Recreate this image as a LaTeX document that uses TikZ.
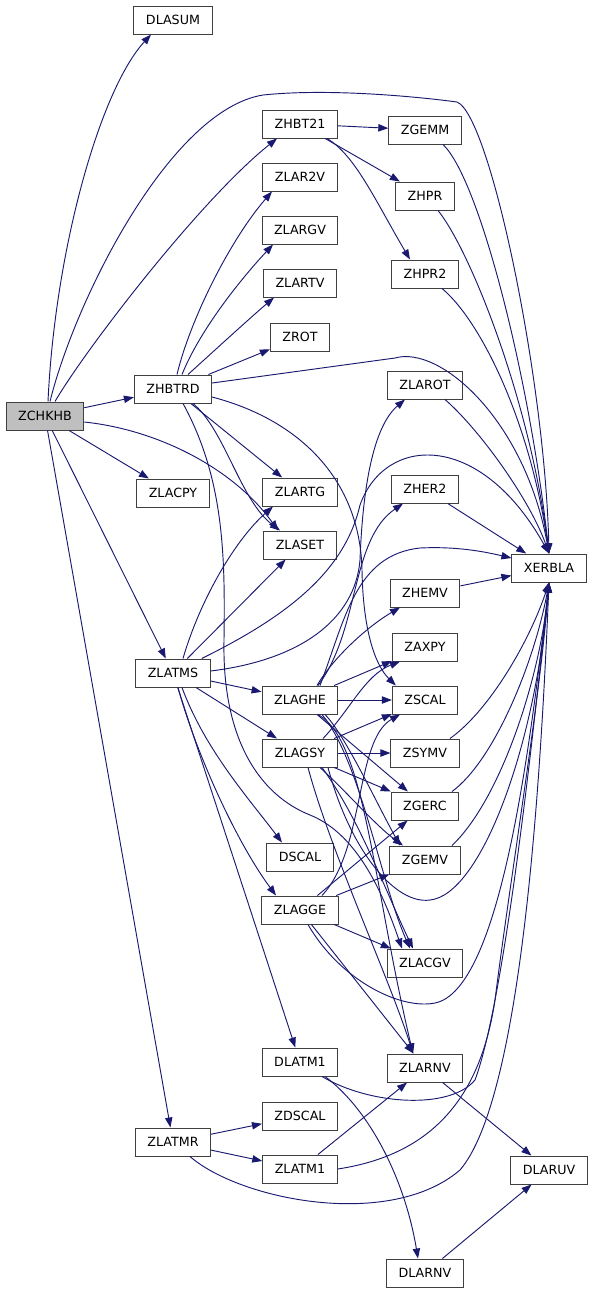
\documentclass[tikz,border=0pt]{standalone}
\usepackage{fontspec}
\setmainfont{DejaVu Sans}
\usetikzlibrary{arrows.meta,calc}
\definecolor{edgeblue}{HTML}{191970}
\definecolor{rootgray}{HTML}{BFBFBF}

\begin{document}
\begin{tikzpicture}[
        x=0.75pt, y=-0.75pt,
        fn/.style={draw=black!75, fill=white, line width=0.75pt, minimum height=21pt, inner xsep=9pt, inner ysep=0pt, font=\fontsize{9.5}{10}\selectfont},
        root/.style={fn, fill=rootgray},
        ar/.style={-{Triangle[length=7.5pt,width=5.5pt]}, edgeblue, line width=0.7pt},
    ]
    \useasboundingbox (0,0) rectangle (592,1293);

    \node[root](zchkhb) at (45,416) {ZCHKHB};
    \node[fn](dlasum) at (173,20) {DLASUM};
    \node[fn](zhbt21) at (300,124) {ZHBT21};
    \node[fn](zgemm) at (425,130) {ZGEMM};
    \node[fn](zlar2v) at (300,177) {ZLAR2V};
    \node[fn](zhpr) at (425,196) {ZHPR};
    \node[fn](zlargv) at (300,230) {ZLARGV};
    \node[fn](zhpr2) at (425,274) {ZHPR2};
    \node[fn](zlartv) at (300,283) {ZLARTV};
    \node[fn](zrot) at (300,337) {ZROT};
    \node[fn](zhbtrd) at (173,389) {ZHBTRD};
    \node[fn](zlarot) at (425,385) {ZLAROT};
    \node[fn](zlacpy) at (173,493) {ZLACPY};
    \node[fn](zlartg) at (300,492) {ZLARTG};
    \node[fn](zher2) at (425,489) {ZHER2};
    \node[fn](zlaset) at (300,545) {ZLASET};
    \node[fn](xerbla) at (549,568) {XERBLA};
    \node[fn](zhemv) at (425,593) {ZHEMV};
    \node[fn](zaxpy) at (425,647) {ZAXPY};
    \node[fn](zlatms) at (173,673) {ZLATMS};
    \node[fn](zlaghe) at (300,700) {ZLAGHE};
    \node[fn](zscal) at (425,700) {ZSCAL};
    \node[fn](zlagsy) at (300,753) {ZLAGSY};
    \node[fn](zsymv) at (425,753) {ZSYMV};
    \node[fn](zgerc) at (425,806) {ZGERC};
    \node[fn](dscal) at (300,857) {DSCAL};
    \node[fn](zgemv) at (425,860) {ZGEMV};
    \node[fn](zlagge) at (300,910) {ZLAGGE};
    \node[fn](zlacgv) at (425,963) {ZLACGV};
    \node[fn](dlatm1) at (300,1062) {DLATM1};
    \node[fn](zlarnv) at (425,1068) {ZLARNV};
    \node[fn](zdscal) at (300,1116) {ZDSCAL};
    \node[fn](zlatmr) at (173,1142) {ZLATMR};
    \node[fn](zlatm1) at (300,1169) {ZLATM1};
    \node[fn](dlaruv) at (549,1170) {DLARUV};
    \node[fn](dlarnv) at (425,1273) {DLARNV};

    \draw[ar] ($(zchkhb.north)+(3,0)$) .. controls (55,250) and (100,90) .. ($(dlasum.south)+(-22,0)$);
    \draw[ar] ($(zchkhb.north)+(5,0)$) .. controls (75,300) and (170,110) .. (263,95) .. controls (330,88) and (420,97) .. (457,102) .. controls (490,115) and (545,380) .. (xerbla.north);
    \draw[ar] ($(zchkhb.north)+(10,0)$) .. controls (85,350) and (200,200) .. ($(zhbt21.south)+(-23,0)$);
    \draw[ar] (zchkhb) -- (zhbtrd);
    \draw[ar] (zchkhb) -- (zlacpy);
    \draw[ar] ($(zchkhb.east)+(0,6)$) .. controls (160,430) and (235,470) .. ($(zlaset.north)+(-22,0)$);
    \draw[ar] (zchkhb) -- (zlatms);
    \draw[ar] (zchkhb) -- (zlatmr);

    \draw[ar] (zhbt21) -- (zgemm);
    \draw[ar] (zhbt21) -- (zhpr);
    \draw[ar] ($(zhbt21.south)+(27,0)$) .. controls (355,155) and (375,200) .. ($(zhpr2.north)+(-15,0)$);
    \draw[ar] ($(zgemm.south)+(18,0)$) .. controls (480,180) and (530,380) .. (xerbla.north);
    \draw[ar] ($(zhpr.south)+(13,0)$) .. controls (470,250) and (530,400) .. (xerbla.north);
    \draw[ar] ($(zhpr2.south)+(17,0)$) .. controls (480,320) and (530,420) .. (xerbla.north);

    \draw[ar] ($(zhbtrd.north)+(4,0)$) .. controls (190,320) and (230,240) .. ($(zlar2v.south)+(-28,0)$);
    \draw[ar] ($(zhbtrd.north)+(9,0)$) .. controls (200,330) and (240,280) .. ($(zlargv.south)+(-27,0)$);
    \draw[ar] ($(zhbtrd.north)+(15,0)$) .. controls (215,350) and (250,318) .. ($(zlartv.south)+(-26,0)$);
    \draw[ar] (zhbtrd) -- (zrot);
    \draw[ar] ($(zhbtrd.east)+(0,-6)$) -- (395,358) .. controls (440,345) and (525,420) .. (xerbla.north);
    \draw[ar] (zhbtrd) -- (zlartg);
    \draw[ar] ($(zhbtrd.south)+(20,0)$) .. controls (225,430) and (240,500) .. ($(zlaset.north)+(-20,0)$);
    \draw[ar] ($(zhbtrd.east)+(0,8)$) .. controls (300,420) and (360,480) .. (362,570) .. controls (363,630) and (375,665) .. ($(zscal.north west)+(4,0)$);
    \draw[ar] ($(zhbtrd.south)+(10,0)$) .. controls (225,480) and (225,560) .. (224,640) .. controls (222,740) and (260,795) .. (310,815) .. controls (360,835) and (385,900) .. ($(zlacgv.north)+(-23,0)$);

    \draw[ar] ($(zlatms.north)+(10,0)$) .. controls (200,600) and (235,540) .. ($(zlartg.south)+(-27,0)$);
    \draw[ar] (zlatms) -- (zlaset);
    \draw[ar] ($(zlatms.east)+(0,-2)$) .. controls (300,660) and (355,620) .. (360,560) .. controls (363,480) and (375,425) .. ($(zlarot.south)+(-20,0)$);
    \draw[ar] ($(zlatms.north east)+(-9,0)$) .. controls (290,615) and (345,570) .. (360,505) .. controls (385,435) and (480,430) .. (xerbla.north);
    \draw[ar] (zlatms) -- (zlaghe);
    \draw[ar] (zlatms) -- (zlagsy);
    \draw[ar] ($(zlatms.south)+(9,0)$) .. controls (205,750) and (250,800) .. ($(dscal.north)+(-18,0)$);
    \draw[ar] ($(zlatms.south)+(5,0)$) .. controls (195,750) and (235,840) .. ($(zlagge.north)+(-24,0)$);
    \draw[ar] (zlatms) -- (dlatm1);

    \draw[ar] ($(zlaghe.north)+(18,0)$) .. controls (360,630) and (350,540) .. ($(zher2.south)+(-22,0)$);
    \draw[ar] ($(zlaghe.north)+(20,0)$) .. controls (345,620) and (355,555) .. (420,548) .. controls (460,546) and (490,553) .. ($(xerbla.west)+(0,-10)$);
    \draw[ar] ($(zlaghe.north)+(17,0)$) .. controls (335,655) and (370,625) .. ($(zhemv.south)+(-25,0)$);
    \draw[ar] (zlaghe) -- (zaxpy);
    \draw[ar] (zlaghe) -- (zscal);
    \draw[ar] (zlaghe) -- (zgerc);
    \draw[ar] ($(zlaghe.south)+(25,0)$) .. controls (345,735) and (375,800) .. ($(zgemv.north)+(-25,0)$);
    \draw[ar] ($(zlaghe.south)+(22,0)$) .. controls (360,760) and (380,880) .. ($(zlacgv.north)+(-15,0)$);
    \draw[ar] ($(zlaghe.south)+(18,0)$) .. controls (365,740) and (372,880) .. ($(zlarnv.north)+(-12,0)$);

    \draw[ar] ($(zlagsy.north)+(23,0)$) .. controls (350,710) and (365,675) .. ($(zaxpy.south)+(-25,0)$);
    \draw[ar] (zlagsy) -- (zscal);
    \draw[ar] (zlagsy) -- (zsymv);
    \draw[ar] (zlagsy) -- (zgerc);
    \draw[ar] ($(zlagsy.south)+(20,0)$) .. controls (345,790) and (375,825) .. ($(zgemv.north)+(-22,0)$);
    \draw[ar] ($(zlagsy.south)+(22,0)$) .. controls (360,820) and (385,890) .. ($(zlacgv.north)+(-12,0)$);
    \draw[ar] ($(zlagsy.south)+(8,0)$) .. controls (330,850) and (390,980) .. ($(zlarnv.north)+(-12,0)$);
    \draw[ar] ($(zlagsy.south)+(28,0)$) .. controls (350,850) and (395,905) .. (430,900) .. controls (480,895) and (535,750) .. (xerbla.south);

    \draw[ar] ($(zlagge.north)+(22,0)$) .. controls (365,850) and (355,740) .. ($(zscal.south)+(-25,0)$);
    \draw[ar] (zlagge) -- (zgerc);
    \draw[ar] (zlagge) -- (zgemv);
    \draw[ar] (zlagge) -- (zlacgv);
    \draw[ar] (zlagge) -- (zlarnv);
    \draw[ar] ($(zlagge.south)+(8,0)$) .. controls (340,980) and (400,1010) .. (435,1003) .. controls (500,990) and (530,750) .. (xerbla.south);

    \draw[ar] ($(zlarot.south)+(20,0)$) .. controls (480,430) and (530,500) .. (xerbla.north);
    \draw[ar] (zher2) -- (xerbla);
    \draw[ar] (zhemv) -- (xerbla);
    \draw[ar] ($(zsymv.north)+(25,0)$) .. controls (490,710) and (530,640) .. (xerbla.south);
    \draw[ar] ($(zgerc.north)+(27,0)$) .. controls (495,760) and (535,660) .. (xerbla.south);
    \draw[ar] ($(zgemv.north)+(27,0)$) .. controls (500,800) and (540,680) .. (xerbla.south);

    \draw[ar] (zlatmr) -- (zdscal);
    \draw[ar] (zlatmr) -- (zlatm1);
    \draw[ar] ($(zlatmr.south)+(17,0)$) .. controls (240,1200) and (390,1230) .. (460,1170) .. controls (520,1100) and (540,800) .. (xerbla.south);
    \draw[ar] (zlatm1) -- (zlarnv);
    \draw[ar] (zlatm1.east) .. controls (430,1155) and (480,1100) .. (495,1000) .. controls (510,880) and (540,700) .. (xerbla.south);
    \draw[ar] ($(dlatm1.south)+(22,0)$) .. controls (370,1105) and (450,1110) .. (475,1080) .. controls (505,1000) and (535,720) .. (xerbla.south);
    \draw[ar] ($(dlatm1.south)+(25,0)$) .. controls (370,1110) and (405,1180) .. ($(dlarnv.north)+(-7,0)$);
    \draw[ar] (zlarnv) -- (dlaruv);
    \draw[ar] (dlarnv) -- (dlaruv);

\end{tikzpicture}
\end{document}
